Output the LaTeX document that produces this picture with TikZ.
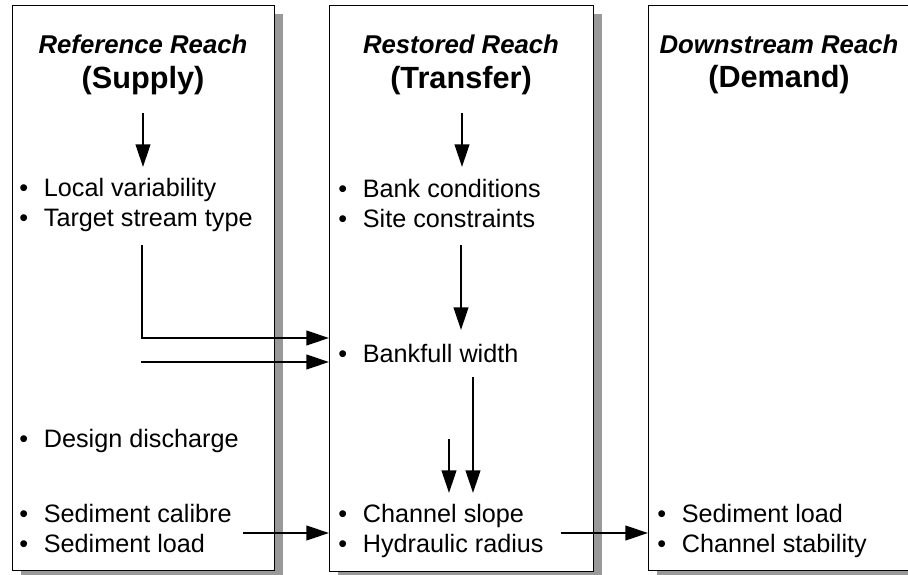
\documentclass[tikz,border=0pt]{standalone}
\usepackage{fontspec}
\setmainfont{Liberation Sans}
\usetikzlibrary{arrows.meta,shadows}
\begin{document}
\begin{tikzpicture}[x=0.75pt,y=-0.75pt,
  reachbox/.style={draw=black, line width=0.8pt, fill=white, anchor=north west, inner sep=0pt,
    minimum width=196.5pt, minimum height=423.75pt,
    drop shadow={shadow xshift=6pt, shadow yshift=-6pt, fill=black!40, opacity=1}},
  titleone/.style={font=\fontsize{19.3}{22}\selectfont\bfseries\itshape, anchor=base, inner sep=0pt},
  titletwo/.style={font=\fontsize{23}{27}\selectfont\bfseries, anchor=base, inner sep=0pt},
  item/.style={font=\fontsize{18.9}{22}\selectfont, anchor=base west, inner sep=0pt},
  arr/.style={line width=1.45pt, -{Triangle[length=17pt,width=11pt]}}]
\newcommand{\bul}{\makebox[18.5pt][l]{•}}
\useasboundingbox (0,0) rectangle (908,575);

% boxes
\node[reachbox] (box1) at (12,5) {};
\node[reachbox, minimum width=198pt, minimum height=424.5pt] (box2) at (329,5) {};
\node[reachbox] (box3) at (648,5) {};

% titles
\node[titleone] (h1a) at (143,53) {Reference Reach};
\node[titletwo] (h1b) at (143,88) {(Supply)};
\node[titleone] (h2a) at (461,53) {Restored Reach};
\node[titletwo] (h2b) at (461,88) {(Transfer)};
\node[titleone] (h3a) at (779,53) {Downstream Reach};
\node[titletwo] (h3b) at (779,87) {(Demand)};

% box 1 items
\node[item] (lv) at (19,196) {\bul Local variability};
\node[item] (ts) at (19,226) {\bul Target stream type};
\node[item] (dd) at (19,447) {\bul Design discharge};
\node[item] (sc) at (19,522) {\bul Sediment calibre};
\node[item] (sl) at (19,552) {\bul Sediment load};

% box 2 items
\node[item] (bc) at (338,197) {\bul Bank conditions};
\node[item] (stc) at (338,227) {\bul Site constraints};
\node[item] (bw) at (338,362) {\bul Bankfull width};
\node[item] (cs) at (338,522) {\bul Channel slope};
\node[item] (hr) at (338,552) {\bul Hydraulic radius};

% box 3 items
\node[item] (dsl) at (657,522) {\bul Sediment load};
\node[item] (cst) at (657,552) {\bul Channel stability};

% connector coordinates
\coordinate (a1s) at (143,113); \coordinate (a1e) at (143,167);
\coordinate (a2s) at (462,113); \coordinate (a2e) at (462,167);
\coordinate (a3s) at (461,245); \coordinate (a3e) at (461,330);
\coordinate (a4s) at (142,245); \coordinate (a4c) at (142,338);
\coordinate (a5s) at (141,362);
\coordinate (a6s) at (449,439); \coordinate (a6e) at (449,493);
\coordinate (a7s) at (473,377); \coordinate (a7e) at (473,493);
\coordinate (a8s) at (243,533);
\coordinate (a9s) at (561,533);

% connectors
\draw[arr] (a1s) -- (a1e);
\draw[arr] (a2s) -- (a2e);
\draw[arr] (a3s) -- (a3e);
\draw[arr] (a4s) -- (a4c) -- (a4c -| box2.west);
\draw[arr] (a5s) -- (a5s -| box2.west);
\draw[arr] (a6s) -- (a6e);
\draw[arr] (a7s) -- (a7e);
\draw[arr] (a8s) -- (a8s -| box2.west);
\draw[arr] (a9s) -- (a9s -| box3.west);
\end{tikzpicture}
\end{document}
